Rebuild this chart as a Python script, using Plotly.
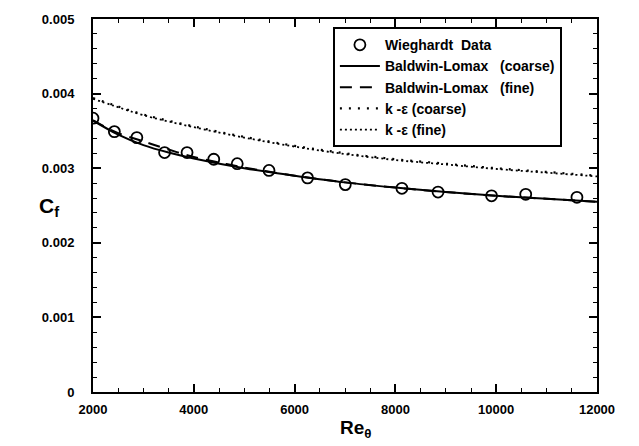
import plotly.graph_objects as go

# Wieghardt experimental data
data_re = [2000, 2424, 2870, 3420, 3866, 4396, 4862, 5492, 6257, 7006, 8129, 8846, 9908, 10586, 11602]
data_cf = [0.00367, 0.00349, 0.00341, 0.00321, 0.00321, 0.00312, 0.00306, 0.00297, 0.00287, 0.00278,
           0.00273, 0.00268, 0.00263, 0.00265, 0.00261]

# Baldwin-Lomax (coarse)
bl_c_re = [2000, 2500, 3000, 3500, 4000, 5000, 6000, 7000, 8000, 9000, 10000, 11000, 12000]
bl_c_cf = [0.00364, 0.00345, 0.00331, 0.00321, 0.00313, 0.00300, 0.00290, 0.00281, 0.00274, 0.00268,
           0.00263, 0.00259, 0.00255]

# Baldwin-Lomax (fine)
bl_f_re = [2000, 2500, 3000, 3500, 4000, 5000, 6000, 7000, 8000, 9000, 10000, 11000, 12000]
bl_f_cf = [0.00364, 0.00347, 0.00336, 0.00325, 0.00315, 0.00301, 0.00290, 0.00281, 0.00274, 0.00268,
           0.00263, 0.00259, 0.00255]

# k-epsilon (coarse)
ke_c_re = [2000, 2400, 3000, 4000, 5000, 6000, 7000, 8000, 9000, 10000, 11000, 12000]
ke_c_cf = [0.00394, 0.00385, 0.00372, 0.00356, 0.00342, 0.00330, 0.00320, 0.00312, 0.00306, 0.00300,
           0.00295, 0.00290]

# k-epsilon (fine)
ke_f_re = [2000, 2400, 3000, 4000, 5000, 6000, 7000, 8000, 9000, 10000, 11000, 12000]
ke_f_cf = [0.00393, 0.00384, 0.00371, 0.00355, 0.00341, 0.00329, 0.00319, 0.00311, 0.00305, 0.00299,
           0.00294, 0.00289]

x_ticks = [2000, 4000, 6000, 8000, 10000, 12000]
x_tick_labels = ["2000", "4000", "6000", "8000", "10000", "12000"]
y_ticks = [0, 0.001, 0.002, 0.003, 0.004, 0.005]
y_tick_labels = ["0", "0.001", "0.002", "0.003", "0.004", "0.005"]

FONT = "Liberation Sans"

fig = go.Figure()
fig.add_trace(go.Scatter(x=data_re, y=data_cf, mode="markers", name="Wieghardt  Data",
                         marker=dict(symbol="circle-open", size=11, color="black", line=dict(width=1.8))))
fig.add_trace(go.Scatter(x=bl_c_re, y=bl_c_cf, mode="lines", name="Baldwin-Lomax   (coarse)",
                         line=dict(color="black", width=2, shape="spline")))
fig.add_trace(go.Scatter(x=bl_f_re, y=bl_f_cf, mode="lines", name="Baldwin-Lomax   (fine)",
                         line=dict(color="black", width=2, dash="12px,8px", shape="spline")))
fig.add_trace(go.Scatter(x=ke_c_re, y=ke_c_cf, mode="lines", name="k -ε (coarse)",
                         line=dict(color="black", width=2.2, dash="2px,7px", shape="spline")))
fig.add_trace(go.Scatter(x=ke_f_re, y=ke_f_cf, mode="lines", name="k -ε (fine)",
                         line=dict(color="black", width=1.8, dash="2px,3px", shape="spline")))

axis_common = dict(
    showline=True, linecolor="black", linewidth=2, mirror="ticks",
    ticks="inside", ticklen=8, tickwidth=1.5, tickcolor="black",
    showgrid=False, zeroline=False,
    tickfont=dict(family=FONT, size=13, color="black", weight="bold"),
)

fig.update_xaxes(range=[2000, 12000], tickvals=x_ticks, ticktext=x_tick_labels,
                 ticklabelstandoff=4,
                 minor=dict(dtick=500, ticks="inside", ticklen=4, tickwidth=1.2, tickcolor="black"),
                 **axis_common)
fig.update_yaxes(range=[0, 0.005], tickvals=y_ticks, ticktext=y_tick_labels,
                 ticklabelstandoff=14,
                 minor=dict(dtick=0.0002, ticks="inside", ticklen=4, tickwidth=1.2, tickcolor="black"),
                 **axis_common)

fig.add_annotation(text="Re<sub>θ</sub>", xref="paper", yref="paper", x=0.52, y=-0.062,
                   xanchor="center", yanchor="top", showarrow=False,
                   font=dict(family=FONT, size=19, color="black", weight="bold"))
fig.add_annotation(text="C<sub>f</sub>", xref="paper", yref="paper", x=-0.088, y=0.496,
                   xanchor="center", yanchor="middle", showarrow=False,
                   font=dict(family=FONT, size=21, color="black", weight="bold"))

fig.update_layout(
    width=639, height=446,
    margin=dict(l=93, r=42, t=15, b=54),
    plot_bgcolor="white", paper_bgcolor="white",
    showlegend=True,
    legend=dict(x=0.476, y=0.978, xanchor="left", yanchor="top",
                bgcolor="white", bordercolor="black", borderwidth=2,
                font=dict(family=FONT, size=14, color="black", weight="bold"),
                tracegroupgap=0, itemwidth=40),
    font=dict(family=FONT, color="black"),
)

fig.write_html("out.html", config={"displayModeBar": False},
               post_script="document.body.style.margin='0px';document.body.style.overflow='hidden';")
